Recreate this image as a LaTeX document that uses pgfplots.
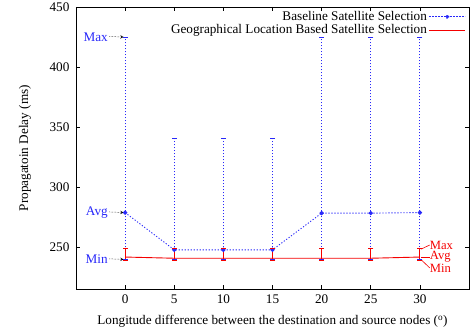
\documentclass[border=0pt]{standalone}
\usepackage{fontspec}
\setmainfont{Liberation Serif}
\usepackage{pgfplots}
\usepackage{pgfplotstable}
\pgfplotsset{compat=1.18}
% baseline averages
\pgfplotstableread{
x y
0 279
5 248
10 248
15 248
20 278.5
25 278.5
30 279
}\baseavg
% baseline min-max ranges (each segment: min then max)
\pgfplotstableread{
x y
0 240
0 425
nan nan
5 240
5 341
nan nan
10 240
10 341
nan nan
15 240
15 341
nan nan
20 240
20 424.5
nan nan
25 240
25 424.5
nan nan
30 240
30 425
}\baserange
% geographical averages
\pgfplotstableread{
x y
0 242
5 241
10 241
15 241
20 241
25 241
30 242
}\geoavg
% geographical min-max ranges
\pgfplotstableread{
x y
0 239.5
0 249
nan nan
5 239.5
5 249
nan nan
10 239.5
10 249
nan nan
15 239.5
15 249
nan nan
20 239.5
20 249
nan nan
25 239.5
25 249
nan nan
30 239.5
30 249
}\georange
\definecolor{gblue}{RGB}{40,40,250}
\definecolor{gred}{RGB}{245,0,0}
\tikzset{gdot/.style={dash pattern=on 1.2pt off 1.8pt}}
\begin{document}
\fontsize{13.2}{15}\selectfont
\begin{tikzpicture}
\begin{axis}[
  scale only axis,
  width=393pt, height=282.5pt,
  xmin=-5, xmax=35, ymin=215, ymax=450,
  xtick={0,5,...,30}, ytick={250,300,...,450},
  tick align=inside, major tick length=4pt,
  tick style={black, line width=0.6pt},
  axis line style={line width=0.8pt},
  clip=false,
  unbounded coords=jump,
  /pgf/number format/assume math mode=true,
  tick label style={font=\fontsize{13.2}{15}\selectfont},
  yticklabel style={xshift=-2pt},
  xticklabel style={yshift=-1pt},
  label style={font=\fontsize{13.2}{15}\selectfont},
  xlabel={Longitude difference between the destination and source nodes ($^{\mathrm{o}}$)},
  ylabel={Propagatoin Delay (ms)},
  ylabel style={at={(axis description cs:-0.1298,0.5)}, anchor=center},
  xlabel style={at={(axis description cs:0.5,-0.1133)}, anchor=center},
  legend plot pos=right,
  legend cell align=right,
  legend style={draw=none, fill=none, at={(1,1)}, anchor=north east,
    font=\fontsize{13.2}{15}\selectfont, row sep=-1.5pt},
]
% baseline ranges with caps
\addplot[gblue, gdot, line width=0.8pt, mark=-, mark size=2.6pt,
  mark options={solid, line width=0.8pt}, forget plot]
  table[x=x, y=y] {\baserange};
\addplot[gblue, gdot, line width=0.9pt, mark=*, mark size=1.7pt, mark options={solid}, forget plot]
  table[x=x, y=y] {\baseavg};
% geographical ranges with caps
\addplot[gred, solid, line width=0.9pt, mark=-, mark size=2.6pt, forget plot]
  table[x=x, y=y] {\georange};
\addplot[gred, solid, line width=0.9pt, mark=none, forget plot]
  table[x=x, y=y] {\geoavg};
% legend
\addlegendimage{gblue, gdot, line width=0.9pt,
  legend image code/.code={\draw[gblue, gdot, line width=0.9pt] (0pt,0pt) -- (36pt,0pt);
     \fill[gblue] (18pt,0pt) circle (1.7pt);}}
\addlegendentry{Baseline Satellite Selection}
\addlegendimage{gred, solid, line width=0.9pt,
  legend image code/.code={\draw[gred, solid, line width=0.9pt] (0pt,0pt) -- (36pt,0pt);}}
\addlegendentry{Geographical Location Based Satellite Selection}
% left annotations
\node[gblue, anchor=east, inner sep=0.5pt] at (axis cs:-1.7,425) {Max};
\node[gblue, anchor=east, inner sep=0.5pt] at (axis cs:-1.7,279) {Avg};
\node[gblue, anchor=east, inner sep=0.5pt] at (axis cs:-1.7,240) {Min};
\draw[densely dotted, -stealth, line width=0.5pt] (axis cs:-1.6,425.5) -- (axis cs:-0.15,425);
\draw[densely dotted, -stealth, line width=0.5pt] (axis cs:-1.6,279.5) -- (axis cs:-0.15,279);
\draw[densely dotted, -stealth, line width=0.5pt] (axis cs:-1.6,240.5) -- (axis cs:-0.15,240);
% right annotations
\node[gred, anchor=west, inner sep=0pt, font=\fontsize{12.6}{14}\selectfont] at (axis cs:31.0,252) {Max};
\node[gred, anchor=west, inner sep=0pt, font=\fontsize{12.6}{14}\selectfont] at (axis cs:31.0,242) {Avg};
\node[gred, anchor=west, inner sep=0pt, font=\fontsize{12.6}{14}\selectfont] at (axis cs:31.0,232.5) {Min};
\draw[gred, line width=0.6pt] (axis cs:30.1,248.5) -- (axis cs:31.0,252);
\draw[gred, line width=0.6pt] (axis cs:30.1,242) -- (axis cs:31.0,242);
\draw[gred, line width=0.6pt] (axis cs:30.1,240) -- (axis cs:31.0,233);
\end{axis}
\pgfresetboundingbox
\path ([shift={(-76pt,-42.5pt)}]current axis.south west) rectangle ([shift={(3pt,7pt)}]current axis.north east);
\end{tikzpicture}
\end{document}
